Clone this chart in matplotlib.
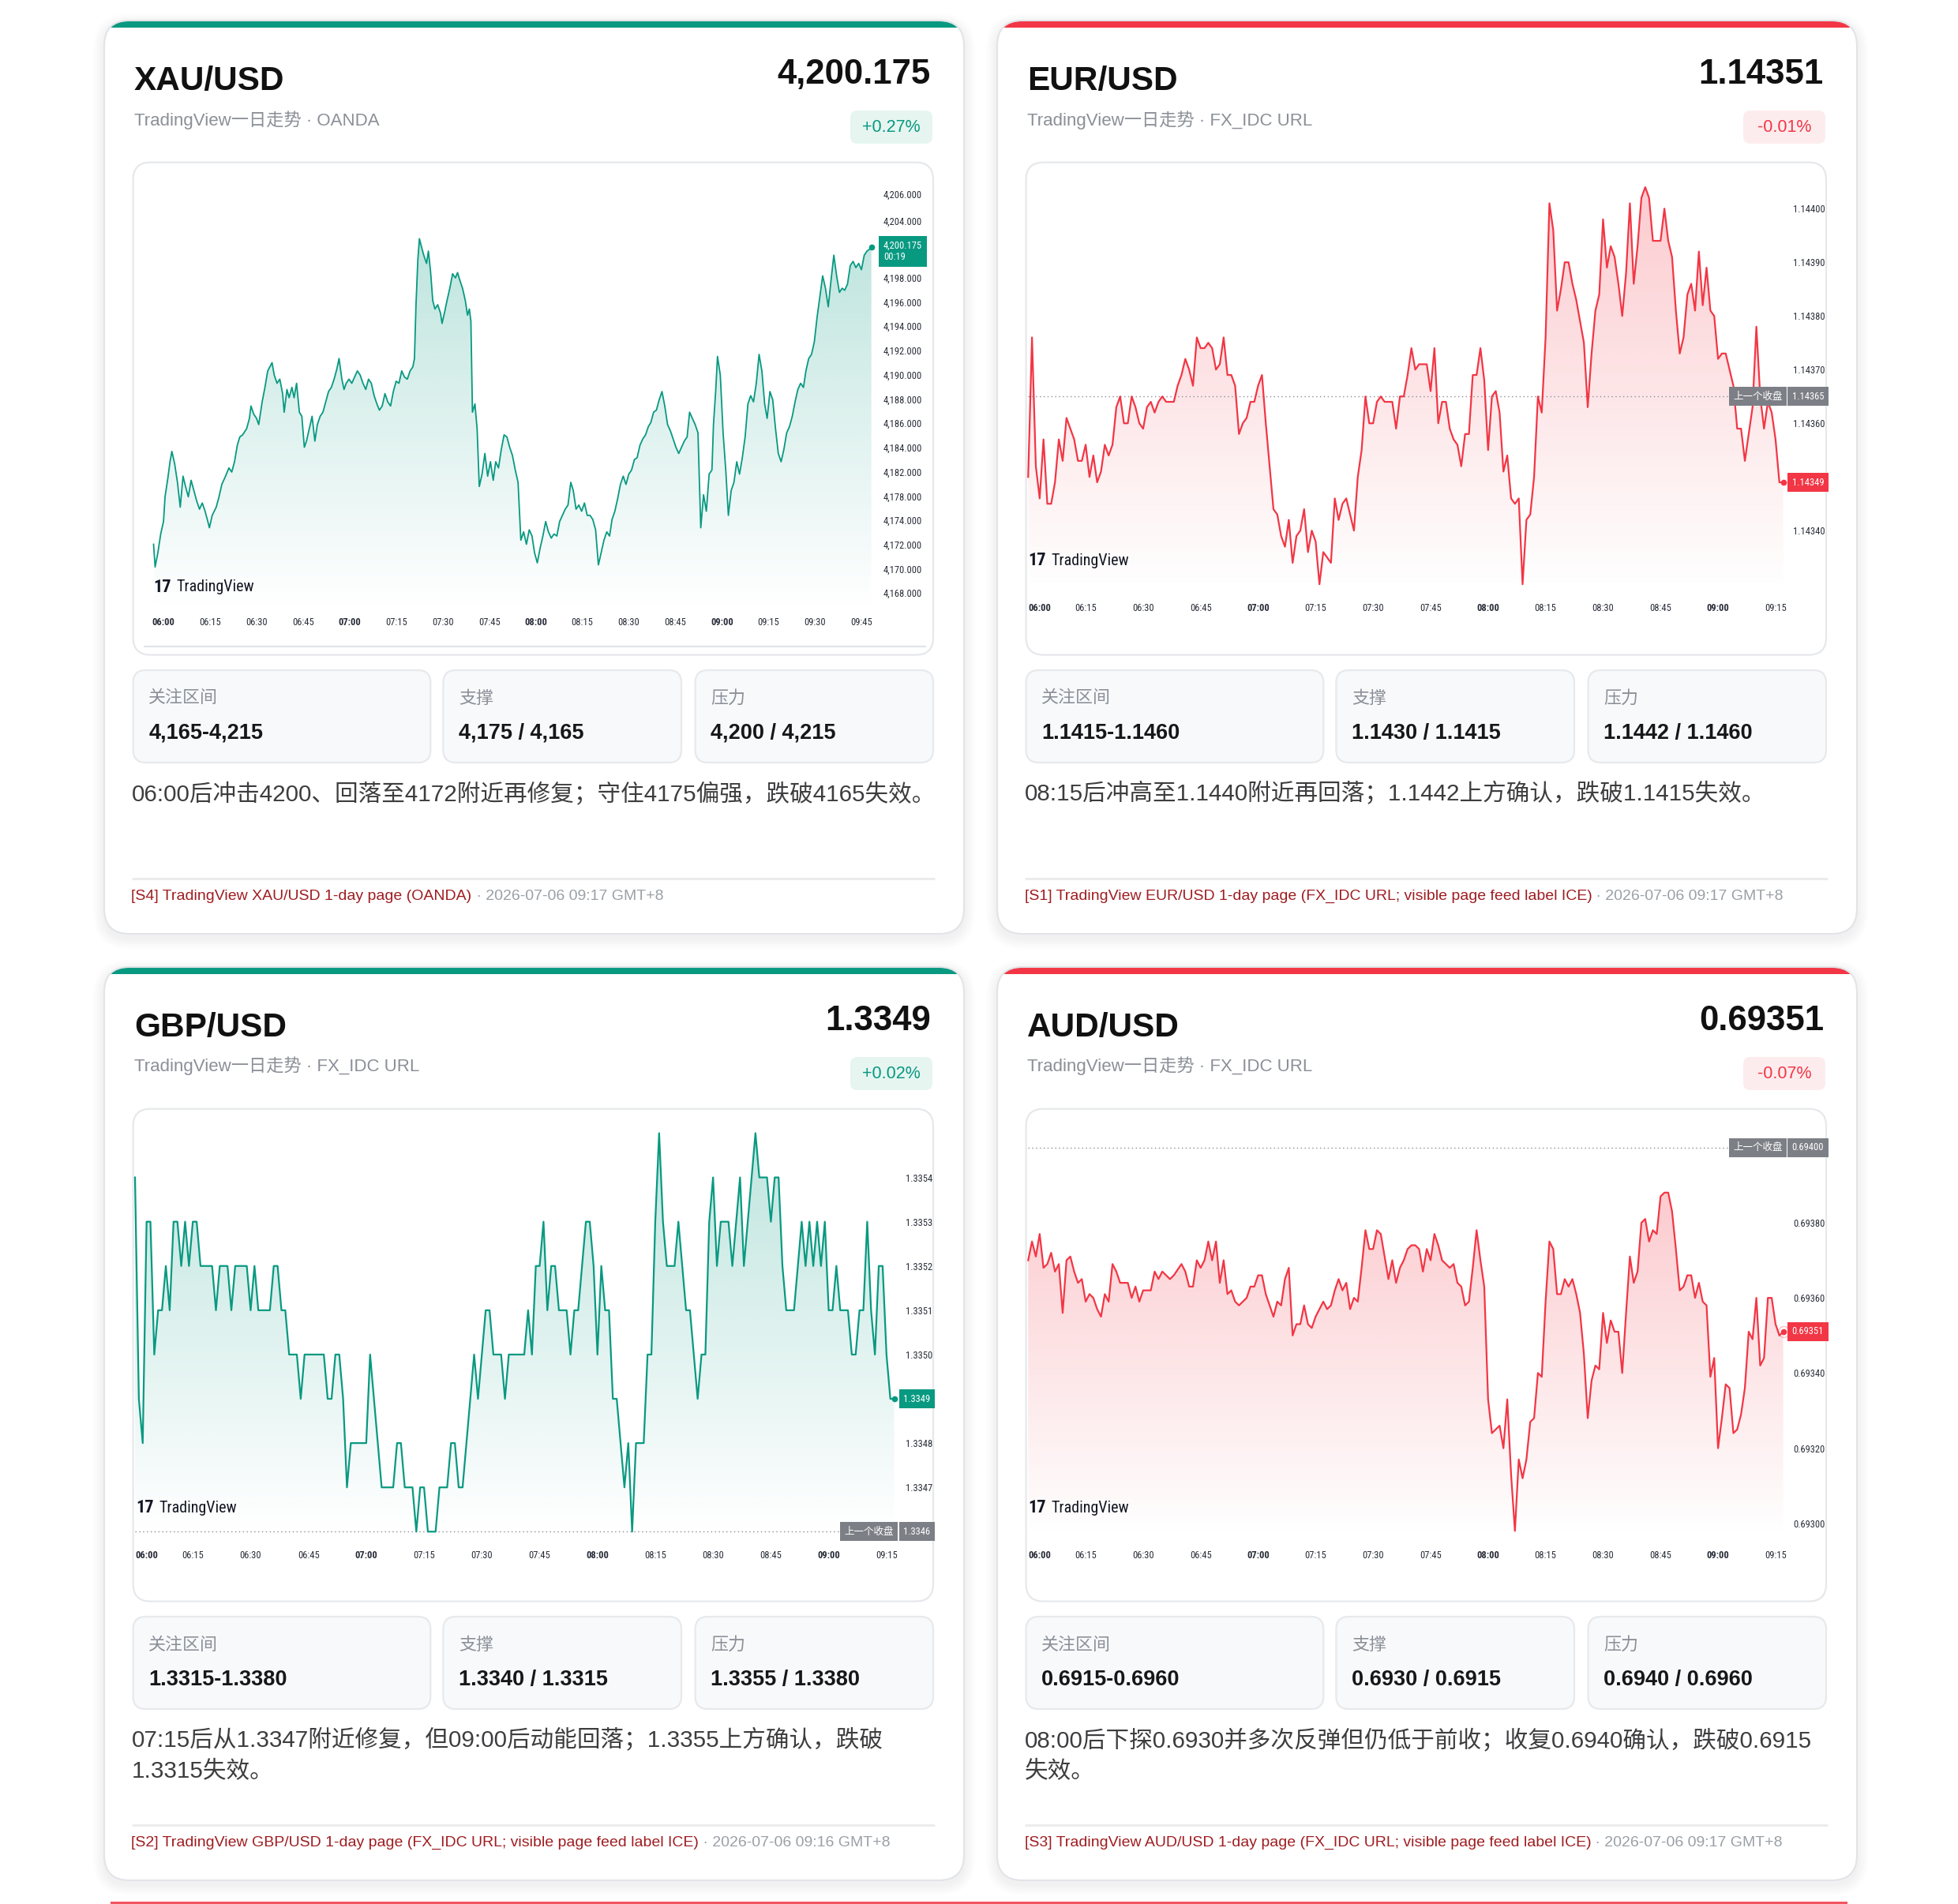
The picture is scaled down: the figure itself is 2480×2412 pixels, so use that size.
import numpy as np
import matplotlib
matplotlib.use("Agg")
import matplotlib.pyplot as plt
from matplotlib import font_manager as fm
from matplotlib.colors import to_rgb
from matplotlib.patches import FancyBboxPatch, Rectangle
from matplotlib.transforms import blended_transform_factory

W, H = 2480, 2412
GREEN = "#089981"
RED = "#f23645"

# ---------------- data (time = minutes after 06:00) ----------------
xau_time = [
    -3.2, -2.7, -1.8, -0.9, 0.0, 0.5, 1.4, 2.1, 2.7, 3.6,
    4.5, 5.4, 6.3, 7.1, 8.0, 8.9, 9.8, 10.7, 11.6, 12.5,
    13.4, 14.3, 14.8, 15.7, 17.0, 17.9, 18.8, 20.0, 21.1, 22.0,
    22.9, 23.8, 24.6, 25.5, 26.8, 27.7, 28.2, 29.1, 30.0, 30.7,
    31.8, 32.7, 33.6, 34.3, 35.0, 35.7, 36.6, 37.5, 38.4, 38.9,
    39.8, 40.5, 41.4, 42.1, 42.9, 43.8, 44.6, 45.4, 46.1, 47.0,
    47.9, 48.8, 49.6, 50.5, 51.4, 52.3, 53.2, 54.1, 55.0, 55.9,
    56.6, 57.5, 58.2, 58.9, 59.8, 60.7, 61.6, 62.5, 63.4, 64.3,
    65.2, 66.1, 67.0, 67.9, 68.8, 69.6, 70.5, 71.4, 72.3, 73.2,
    74.1, 75.0, 75.9, 76.8, 77.7, 78.6, 79.5, 80.4, 80.9, 81.4,
    82.0, 82.5, 83.0, 83.9, 84.8, 85.4, 86.1, 86.8, 87.5, 88.4,
    89.3, 89.8, 90.7, 91.4, 92.3, 93.2, 94.1, 94.8, 95.5, 96.4,
    97.3, 98.0, 98.6, 99.1, 99.6, 100.4, 101.1, 101.8, 102.7, 103.6,
    104.5, 105.4, 106.3, 107.1, 108.0, 108.9, 109.8, 110.7, 111.6, 112.5,
    113.4, 114.3, 115.2, 116.1, 117.0, 117.9, 118.8, 119.6, 120.5, 121.4,
    122.3, 123.2, 124.1, 125.0, 125.9, 126.8, 127.7, 128.6, 129.5, 130.4,
    131.3, 132.1, 133.0, 133.9, 134.8, 135.7, 136.6, 137.5, 138.4, 139.3,
    140.2, 141.1, 142.0, 142.9, 143.8, 144.6, 145.5, 146.4, 147.3, 148.2,
    149.1, 150.0, 150.9, 151.8, 152.7, 153.6, 154.5, 155.4, 156.3, 157.1,
    158.0, 158.9, 159.8, 160.7, 161.6, 162.5, 163.4, 164.3, 165.2, 166.1,
    167.0, 167.9, 168.8, 169.6, 170.5, 171.4, 172.3, 173.2, 174.1, 175.0,
    175.9, 176.8, 177.3, 178.0, 178.6, 179.5, 180.4, 181.3, 182.1, 183.0,
    183.9, 184.8, 185.7, 186.6, 187.5, 188.4, 189.3, 190.2, 191.1, 192.0,
    192.9, 193.8, 194.6, 195.5, 196.4, 197.3, 198.2, 199.1, 200.0, 200.9,
    201.8, 202.7, 203.6, 204.5, 205.4, 206.3, 207.1, 208.0, 208.9, 209.8,
    210.7, 211.6, 212.5, 213.4, 214.3, 215.2, 216.1, 217.0, 217.9, 218.8,
    219.6, 220.5, 221.4, 222.3, 223.2, 224.1, 225.0, 225.9, 226.8, 227.7, 228.2,
]
xau_price = [
    4176.03, 4174.16, 4175.35, 4176.88, 4177.90, 4179.94, 4181.47, 4182.83, 4183.68, 4182.66,
    4181.13, 4179.09, 4181.64, 4180.79, 4179.94, 4181.30, 4180.45, 4179.60, 4178.92, 4179.43,
    4178.75, 4177.90, 4177.39, 4178.41, 4179.09, 4179.94, 4180.96, 4181.64, 4182.32, 4181.98,
    4182.83, 4184.19, 4184.87, 4185.04, 4185.55, 4186.40, 4187.42, 4186.74, 4186.40, 4185.89,
    4187.76, 4188.95, 4190.31, 4190.65, 4190.99, 4189.97, 4189.29, 4189.63, 4188.44, 4186.91,
    4188.78, 4188.10, 4188.95, 4188.10, 4189.29, 4186.91, 4186.57, 4184.02, 4184.53, 4185.55,
    4186.57, 4184.53, 4185.89, 4186.57, 4186.91, 4187.76, 4188.61, 4188.95, 4189.63, 4190.48,
    4191.33, 4189.63, 4188.78, 4189.29, 4189.63, 4189.29, 4189.80, 4190.31, 4189.97, 4189.29,
    4188.78, 4189.63, 4189.29, 4188.27, 4187.59, 4187.08, 4187.42, 4188.44, 4187.76, 4187.42,
    4188.61, 4189.46, 4189.29, 4190.31, 4189.80, 4189.63, 4190.31, 4190.65, 4191.33, 4195.76,
    4199.50, 4201.20, 4200.69, 4199.84, 4199.16, 4200.18, 4198.48, 4196.10, 4195.41, 4195.76,
    4195.07, 4194.22, 4195.24, 4196.10, 4197.12, 4198.31, 4197.97, 4198.41, 4197.80, 4197.12,
    4196.10, 4194.90, 4195.41, 4194.39, 4186.91, 4187.59, 4185.55, 4180.79, 4181.81, 4183.51,
    4181.64, 4182.83, 4181.30, 4182.83, 4182.32, 4183.85, 4185.04, 4184.87, 4184.02, 4183.34,
    4182.15, 4181.13, 4176.37, 4177.05, 4176.03, 4177.22, 4176.71, 4175.35, 4174.50, 4175.69,
    4176.71, 4177.90, 4177.05, 4176.54, 4176.88, 4176.71, 4177.90, 4178.41, 4178.92, 4179.26,
    4181.13, 4180.45, 4178.92, 4179.26, 4178.75, 4179.43, 4178.41, 4178.41, 4178.07, 4177.22,
    4174.33, 4175.35, 4176.37, 4177.05, 4176.71, 4178.07, 4178.75, 4179.77, 4180.96, 4181.64,
    4180.96, 4181.81, 4182.15, 4183.00, 4183.17, 4184.19, 4184.70, 4185.04, 4185.72, 4186.06,
    4186.91, 4187.08, 4187.93, 4188.61, 4187.42, 4185.89, 4185.38, 4184.70, 4184.02, 4183.51,
    4184.02, 4184.53, 4184.87, 4186.91, 4186.40, 4185.89, 4185.21, 4177.39, 4180.11, 4178.75,
    4181.81, 4182.15, 4185.89, 4188.61, 4191.50, 4189.97, 4185.21, 4181.98, 4178.41, 4180.45,
    4181.13, 4182.83, 4181.81, 4183.17, 4184.87, 4187.59, 4188.27, 4187.76, 4189.29, 4191.67,
    4190.31, 4187.59, 4186.40, 4188.61, 4187.93, 4185.55, 4183.51, 4182.83, 4183.85, 4185.21,
    4185.72, 4186.57, 4187.76, 4188.78, 4189.29, 4188.95, 4190.31, 4191.33, 4191.67, 4192.69,
    4194.73, 4196.44, 4198.14, 4197.12, 4195.59, 4197.80, 4199.84, 4198.14, 4196.78, 4197.12,
    4196.95, 4197.46, 4198.99, 4199.33, 4198.82, 4199.16, 4198.65, 4199.84, 4200.18, 4200.35, 4200.52,
]
xau_last = 4200.175
# label positions as drawn on the picture's own (irregular) price scale
xau_yticks = [4204.87, 4202.66, 4198, 4196, 4194, 4192, 4190, 4188, 4186, 4184,
              4182, 4180, 4178, 4176, 4174, 4172.05]
xau_ylabels = ["4,206.000", "4,204.000", "4,198.000", "4,196.000", "4,194.000", "4,192.000",
               "4,190.000", "4,188.000", "4,186.000", "4,184.000", "4,182.000", "4,178.000",
               "4,174.000", "4,172.000", "4,170.000", "4,168.000"]
xau_xlabels = ["06:00", "06:15", "06:30", "06:45", "07:00", "07:15", "07:30", "07:45",
               "08:00", "08:15", "08:30", "08:45", "09:00", "09:15", "09:30", "09:45"]

eur_time = [
    0, 1, 2, 3, 4, 5, 6, 7, 8, 9,
    10, 12, 13, 14, 15, 16, 17, 18, 19, 20,
    21, 22, 23, 24, 25, 26, 27, 28, 29, 30,
    31, 32, 33, 34, 35, 36, 38, 39, 40, 41,
    42, 43, 44, 45, 46, 47, 48, 49, 50, 51,
    52, 53, 54, 55, 56, 57, 58, 59, 60, 61,
    62, 63, 64, 65, 66, 67, 68, 69, 70, 71,
    72, 73, 74, 75, 76, 77, 78, 79, 80, 81,
    82, 83, 84, 85, 86, 87, 88, 89, 90, 91,
    92, 93, 95, 96, 97, 98, 99, 100, 101, 102,
    104, 105, 106, 107, 108, 109, 110, 111, 112, 113,
    114, 115, 116, 117, 118, 119, 120, 121, 122, 123,
    124, 125, 126, 127, 128, 129, 130, 131, 132, 133,
    134, 135, 136, 137, 138, 139, 140, 141, 142, 143,
    144, 145, 146, 147, 148, 149, 150, 151, 152, 153,
    154, 155, 156, 157, 158, 159, 160, 161, 162, 163,
    165, 166, 167, 168, 169, 170, 171, 172, 173, 174,
    175, 176, 177, 178, 179, 180, 181, 182, 183, 184,
    185, 186, 187, 188, 189, 190, 191, 192, 193, 194,
    195, 196, 197,
]
eur_price = [
    1.14350, 1.14376, 1.14352, 1.14346, 1.14357, 1.14345, 1.14345, 1.14349, 1.14357, 1.14353,
    1.14361, 1.14357, 1.14353, 1.14353, 1.14356, 1.14350, 1.14354, 1.14349, 1.14351, 1.14356,
    1.14354, 1.14356, 1.14363, 1.14365, 1.14360, 1.14360, 1.14365, 1.14363, 1.14360, 1.14359,
    1.14363, 1.14364, 1.14362, 1.14364, 1.14365, 1.14364, 1.14364, 1.14367, 1.14369, 1.14372,
    1.14370, 1.14367, 1.14376, 1.14374, 1.14374, 1.14375, 1.14374, 1.14370, 1.14371, 1.14376,
    1.14369, 1.14369, 1.14367, 1.14358, 1.14360, 1.14361, 1.14364, 1.14364, 1.14367, 1.14369,
    1.14360, 1.14352, 1.14344, 1.14343, 1.14339, 1.14337, 1.14342, 1.14334, 1.14339, 1.14340,
    1.14344, 1.14336, 1.14340, 1.14338, 1.14330, 1.14336, 1.14335, 1.14334, 1.14346, 1.14342,
    1.14345, 1.14346, 1.14343, 1.14340, 1.14350, 1.14355, 1.14365, 1.14360, 1.14360, 1.14364,
    1.14365, 1.14364, 1.14364, 1.14359, 1.14365, 1.14365, 1.14369, 1.14374, 1.14370, 1.14371,
    1.14371, 1.14366, 1.14374, 1.14360, 1.14364, 1.14364, 1.14359, 1.14357, 1.14356, 1.14352,
    1.14358, 1.14358, 1.14369, 1.14369, 1.14374, 1.14368, 1.14355, 1.14365, 1.14366, 1.14362,
    1.14351, 1.14354, 1.14346, 1.14345, 1.14346, 1.14330, 1.14342, 1.14343, 1.14350, 1.14365,
    1.14362, 1.14376, 1.14401, 1.14396, 1.14381, 1.14385, 1.14390, 1.14390, 1.14386, 1.14383,
    1.14379, 1.14375, 1.14363, 1.14373, 1.14381, 1.14384, 1.14398, 1.14389, 1.14393, 1.14391,
    1.14386, 1.14380, 1.14388, 1.14401, 1.14386, 1.14393, 1.14402, 1.14404, 1.14402, 1.14394,
    1.14394, 1.14400, 1.14394, 1.14391, 1.14381, 1.14373, 1.14376, 1.14384, 1.14386, 1.14381,
    1.14392, 1.14382, 1.14389, 1.14381, 1.14380, 1.14372, 1.14373, 1.14373, 1.14370, 1.14367,
    1.14359, 1.14359, 1.14353, 1.14358, 1.14363, 1.14378, 1.14365, 1.14359, 1.14364, 1.14362,
    1.14357, 1.14349, 1.14349,
]
eur_prev = 1.14365
eur_last = 1.14349
eur_yticks = [1.14400, 1.14390, 1.14380, 1.14370, 1.14360, 1.14340]

gbp_time = [
    0, 1, 2, 3, 4, 5, 6, 7, 8, 9,
    10, 11, 12, 13, 14, 15, 16, 17, 20, 21,
    22, 24, 25, 26, 29, 30, 31, 32, 35, 36,
    37, 38, 39, 40, 42, 43, 44, 49, 50, 51,
    52, 53, 54, 55, 56, 60, 61, 62, 63, 64,
    67, 68, 69, 70, 72, 73, 74, 75, 76, 78,
    79, 81, 82, 83, 84, 85, 86, 87, 88, 89,
    90, 91, 92, 93, 95, 96, 97, 101, 102, 103,
    104, 105, 106, 107, 108, 109, 110, 112, 113, 114,
    115, 116, 117, 118, 119, 120, 121, 122, 123, 124,
    125, 126, 127, 128, 129, 130, 132, 133, 134, 135,
    136, 137, 138, 139, 140, 141, 142, 143, 144, 145,
    146, 147, 148, 149, 150, 151, 152, 154, 155, 156,
    157, 158, 159, 160, 161, 162, 164, 165, 166, 167,
    168, 169, 171, 172, 173, 174, 175, 176, 177, 178,
    179, 180, 181, 182, 183, 185, 186, 187, 188, 189,
    190, 191, 192, 193, 194, 195, 196, 197,
]
gbp_price = [
    1.3354, 1.3349, 1.3348, 1.3353, 1.3353, 1.3350, 1.3351, 1.3351, 1.3352, 1.3351,
    1.3353, 1.3353, 1.3352, 1.3353, 1.3352, 1.3353, 1.3353, 1.3352, 1.3352, 1.3351,
    1.3352, 1.3352, 1.3351, 1.3352, 1.3352, 1.3351, 1.3352, 1.3351, 1.3351, 1.3352,
    1.3352, 1.3351, 1.3351, 1.3350, 1.3350, 1.3349, 1.3350, 1.3350, 1.3349, 1.3349,
    1.3350, 1.3350, 1.3349, 1.3347, 1.3348, 1.3348, 1.3350, 1.3349, 1.3348, 1.3347,
    1.3347, 1.3348, 1.3348, 1.3347, 1.3347, 1.3346, 1.3347, 1.3347, 1.3346, 1.3346,
    1.3347, 1.3347, 1.3348, 1.3348, 1.3347, 1.3347, 1.3348, 1.3349, 1.3350, 1.3349,
    1.3350, 1.3351, 1.3351, 1.3350, 1.3350, 1.3349, 1.3350, 1.3350, 1.3351, 1.3350,
    1.3352, 1.3352, 1.3353, 1.3351, 1.3352, 1.3352, 1.3351, 1.3351, 1.3350, 1.3351,
    1.3351, 1.3352, 1.3353, 1.3353, 1.3352, 1.3350, 1.3352, 1.3351, 1.3351, 1.3349,
    1.3349, 1.3348, 1.3347, 1.3348, 1.3346, 1.3348, 1.3348, 1.3350, 1.3350, 1.3353,
    1.3355, 1.3353, 1.3352, 1.3352, 1.3352, 1.3353, 1.3352, 1.3351, 1.3351, 1.3350,
    1.3349, 1.3350, 1.3350, 1.3353, 1.3354, 1.3352, 1.3353, 1.3353, 1.3352, 1.3353,
    1.3354, 1.3352, 1.3353, 1.3354, 1.3355, 1.3354, 1.3354, 1.3353, 1.3354, 1.3354,
    1.3352, 1.3351, 1.3351, 1.3352, 1.3353, 1.3352, 1.3353, 1.3352, 1.3353, 1.3352,
    1.3353, 1.3351, 1.3351, 1.3352, 1.3351, 1.3351, 1.3350, 1.3350, 1.3351, 1.3351,
    1.3353, 1.3351, 1.3350, 1.3352, 1.3352, 1.3350, 1.3349, 1.3349,
]
gbp_prev = 1.3346
gbp_last = 1.3349
gbp_yticks = [1.3354, 1.3353, 1.3352, 1.3351, 1.3350, 1.3348, 1.3347]

aud_time = [
    0, 1, 2, 3, 4, 5, 6, 7, 8, 9,
    10, 11, 12, 13, 14, 15, 16, 17, 18, 19,
    20, 21, 22, 23, 24, 26, 27, 28, 29, 30,
    32, 33, 34, 35, 36, 37, 38, 40, 41, 42,
    43, 44, 45, 46, 47, 48, 49, 50, 51, 52,
    53, 54, 55, 56, 57, 58, 59, 60, 61, 62,
    63, 64, 65, 66, 67, 68, 69, 70, 71, 72,
    73, 74, 75, 76, 77, 78, 79, 80, 81, 82,
    83, 84, 85, 86, 87, 88, 89, 90, 91, 92,
    93, 94, 95, 96, 97, 98, 99, 100, 101, 102,
    103, 104, 105, 106, 107, 108, 109, 110, 111, 112,
    113, 114, 115, 116, 117, 118, 119, 120, 121, 122,
    123, 124, 125, 126, 127, 128, 129, 130, 131, 132,
    133, 134, 135, 136, 137, 138, 139, 140, 141, 142,
    143, 144, 145, 146, 147, 148, 149, 150, 151, 152,
    153, 154, 155, 156, 157, 158, 159, 160, 161, 162,
    163, 164, 165, 166, 167, 168, 169, 170, 171, 172,
    173, 174, 175, 176, 177, 178, 179, 180, 181, 182,
    183, 184, 185, 186, 187, 188, 189, 190, 191, 192,
    193, 194, 195, 196, 197,
]
aud_price = [
    0.69370, 0.69375, 0.69371, 0.69377, 0.69368, 0.69369, 0.69372, 0.69367, 0.69369, 0.69356,
    0.69370, 0.69371, 0.69367, 0.69364, 0.69365, 0.69359, 0.69361, 0.69360, 0.69357, 0.69355,
    0.69361, 0.69359, 0.69369, 0.69367, 0.69364, 0.69364, 0.69360, 0.69363, 0.69359, 0.69362,
    0.69362, 0.69367, 0.69365, 0.69367, 0.69366, 0.69365, 0.69366, 0.69369, 0.69367, 0.69363,
    0.69363, 0.69370, 0.69368, 0.69370, 0.69375, 0.69370, 0.69375, 0.69364, 0.69370, 0.69361,
    0.69362, 0.69359, 0.69358, 0.69359, 0.69360, 0.69363, 0.69363, 0.69366, 0.69366, 0.69361,
    0.69358, 0.69355, 0.69359, 0.69358, 0.69365, 0.69368, 0.69350, 0.69353, 0.69353, 0.69358,
    0.69353, 0.69352, 0.69355, 0.69357, 0.69359, 0.69357, 0.69358, 0.69362, 0.69365, 0.69362,
    0.69364, 0.69357, 0.69360, 0.69359, 0.69368, 0.69378, 0.69373, 0.69373, 0.69378, 0.69377,
    0.69371, 0.69365, 0.69370, 0.69364, 0.69368, 0.69370, 0.69373, 0.69374, 0.69374, 0.69373,
    0.69367, 0.69373, 0.69370, 0.69377, 0.69374, 0.69370, 0.69369, 0.69368, 0.69369, 0.69364,
    0.69363, 0.69358, 0.69359, 0.69368, 0.69378, 0.69370, 0.69363, 0.69333, 0.69324, 0.69325,
    0.69326, 0.69320, 0.69333, 0.69313, 0.69298, 0.69317, 0.69312, 0.69317, 0.69327, 0.69328,
    0.69340, 0.69339, 0.69359, 0.69375, 0.69373, 0.69361, 0.69361, 0.69365, 0.69363, 0.69365,
    0.69361, 0.69356, 0.69345, 0.69328, 0.69338, 0.69342, 0.69341, 0.69356, 0.69348, 0.69354,
    0.69351, 0.69351, 0.69340, 0.69356, 0.69371, 0.69364, 0.69367, 0.69380, 0.69381, 0.69375,
    0.69378, 0.69377, 0.69387, 0.69388, 0.69388, 0.69383, 0.69373, 0.69362, 0.69363, 0.69366,
    0.69366, 0.69360, 0.69364, 0.69359, 0.69358, 0.69339, 0.69344, 0.69320, 0.69328, 0.69337,
    0.69336, 0.69324, 0.69325, 0.69329, 0.69336, 0.69351, 0.69349, 0.69360, 0.69342, 0.69344,
    0.69360, 0.69360, 0.69353, 0.69350, 0.69351,
]
aud_prev = 0.69400
aud_last = 0.69351
aud_yticks = [0.69380, 0.69360, 0.69340, 0.69320, 0.69300]

fx_xlabels = ["06:00", "06:15", "06:30", "06:45", "07:00", "07:15", "07:30",
              "07:45", "08:00", "08:15", "08:30", "08:45", "09:00", "09:15"]

cards = [
    dict(title="XAU/USD", price="4,200.175", sub="TradingView一日走势 · OANDA", badge="+0.27%", up=True,
         stats=[("关注区间", "4,165-4,215"), ("支撑", "4,175 / 4,165"), ("压力", "4,200 / 4,215")],
         note=["06:00后冲击4200、回落至4172附近再修复；守住4175偏强，跌破4165失效。"],
         src="[S4] TradingView XAU/USD 1-day page (OANDA)", stamp=" · 2026-07-06 09:17 GMT+8"),
    dict(title="EUR/USD", price="1.14351", sub="TradingView一日走势 · FX_IDC URL", badge="-0.01%", up=False,
         stats=[("关注区间", "1.1415-1.1460"), ("支撑", "1.1430 / 1.1415"), ("压力", "1.1442 / 1.1460")],
         note=["08:15后冲高至1.1440附近再回落；1.1442上方确认，跌破1.1415失效。"],
         src="[S1] TradingView EUR/USD 1-day page (FX_IDC URL; visible page feed label ICE)",
         stamp=" · 2026-07-06 09:17 GMT+8"),
    dict(title="GBP/USD", price="1.3349", sub="TradingView一日走势 · FX_IDC URL", badge="+0.02%", up=True,
         stats=[("关注区间", "1.3315-1.3380"), ("支撑", "1.3340 / 1.3315"), ("压力", "1.3355 / 1.3380")],
         note=["07:15后从1.3347附近修复，但09:00后动能回落；1.3355上方确认，跌破", "1.3315失效。"],
         src="[S2] TradingView GBP/USD 1-day page (FX_IDC URL; visible page feed label ICE)",
         stamp=" · 2026-07-06 09:16 GMT+8"),
    dict(title="AUD/USD", price="0.69351", sub="TradingView一日走势 · FX_IDC URL", badge="-0.07%", up=False,
         stats=[("关注区间", "0.6915-0.6960"), ("支撑", "0.6930 / 0.6915"), ("压力", "0.6940 / 0.6960")],
         note=["08:00后下探0.6930并多次反弹但仍低于前收；收复0.6940确认，跌破0.6915", "失效。"],
         src="[S3] TradingView AUD/USD 1-day page (FX_IDC URL; visible page feed label ICE)",
         stamp=" · 2026-07-06 09:17 GMT+8"),
]


def pick_font(names):
    for name in names:
        try:
            fm.findfont(fm.FontProperties(family=name), fallback_to_default=False)
            return name
        except ValueError:
            continue
    return "DejaVu Sans"


NARROW = pick_font(["Liberation Sans Narrow", "Roboto Condensed", "Liberation Sans"])
plt.rcParams["font.family"] = ["Liberation Sans", "Noto Sans CJK SC", "DejaVu Sans"]

fig = plt.figure(figsize=(W / 100, H / 100), dpi=100, facecolor="white")
bg = fig.add_axes([0, 0, 1, 1])
bg.set_xlim(0, W)
bg.set_ylim(H, 0)
bg.axis("off")


def rbox(x0, y0, x1, y1, r, fc, ec="none", lw=0, alpha=1.0, z=2):
    p = FancyBboxPatch((x0, y0), x1 - x0, y1 - y0, boxstyle=f"round,pad=0,rounding_size={r}",
                       fc=fc, ec=ec, lw=lw, alpha=alpha, zorder=z)
    bg.add_patch(p)
    return p


def minute(label):
    h, m = label.split(":")
    return (int(h) - 6) * 60 + int(m)


def draw_card(cx, cy, c):
    cw, ch = 1089, 1157
    color = GREEN if c["up"] else RED
    for k in range(1, 8):
        rbox(cx - 2 * k, cy - 2 * k + 5, cx + cw + 2 * k, cy + ch + 2 * k + 5, 32 + 2 * k,
             fc="black", alpha=0.007, z=1)
    body = rbox(cx, cy, cx + cw, cy + ch, 32, fc="white", z=2)
    bar = Rectangle((cx, cy), cw, 9, fc=color, ec="none", zorder=3)
    bg.add_patch(bar)
    bar.set_clip_path(body)
    rbox(cx, cy, cx + cw, cy + ch, 32, fc="none", ec="#e2e4e8", lw=1.5, z=4)

    bg.text(cx + 38, cy + 88, c["title"], fontsize=30.5, fontweight="bold", color="#111111",
            va="baseline", zorder=5)
    bg.text(cx + 1047, cy + 80, c["price"], fontsize=31.5, fontweight="bold", color="#111111",
            ha="right", va="baseline", zorder=5)
    bg.text(cx + 38, cy + 132.5, c["sub"], fontsize=16, color="#8b8f97", va="baseline", zorder=5)
    rbox(cx + 945, cy + 114, cx + 1049, cy + 156, 9, fc="#e6f5f0" if c["up"] else "#fdecee", z=5)
    bg.text(cx + 997, cy + 135.5, c["badge"], fontsize=15.5, color=color, ha="center", va="center",
            zorder=6)

    rbox(cx + 36.6, cy + 179.7, cx + 1050, cy + 803.6, 22, fc="white", ec="#e6e8eb", lw=1.6, z=5)

    for (bx0, bx1), (lab, val) in zip([(36.6, 413.3), (429.4, 731), (748.6, 1050)], c["stats"]):
        rbox(cx + bx0, cy + 823, cx + bx1, cy + 940, 16, fc="#f8f9fa", ec="#e7e9ec", lw=1.6, z=5)
        bg.text(cx + bx0 + 19.6, cy + 859, lab, fontsize=15.8, color="#8a8f98", va="center", zorder=6)
        bg.text(cx + bx0 + 19.6, cy + 910, val, fontsize=19.5, fontweight="bold", color="#15171a",
                va="baseline", zorder=6)

    for i, line in enumerate(c["note"]):
        bg.text(cx + 34.5, cy + 979 + 40 * i, line, fontsize=21.3, color="#3d3d3f", va="center", zorder=6)

    bg.plot([cx + 34.5, cx + 1052], [cy + 1086.7, cy + 1086.7], color="#ececee", lw=2.2, zorder=6,
            solid_capstyle="butt")
    src = bg.text(cx + 34.5, cy + 1114, c["src"], fontsize=14, color="#9f1d21", va="baseline", zorder=6)
    renderer = fig.canvas.get_renderer()
    bb = src.get_window_extent(renderer)
    x_end = bg.transData.inverted().transform((bb.x1, bb.y0))[0]
    bg.text(x_end, cy + 1114, c["stamp"], fontsize=14, color="#9aa0a6", va="baseline", zorder=6)


def logo(x, y):
    fig.text(x / W, 1 - y / H, "17", fontsize=16, fontweight="bold", family=NARROW,
             va="center", color="#131722", zorder=8)
    fig.text((x + 29) / W, 1 - y / H, "TradingView", fontsize=14.5, family=NARROW,
             va="center", color="#131722", zorder=8)


def draw_chart(box, t, p, color, lw, xlim, ylim, yticks, ylabels, xlabels, ypad, xpad, first_left):
    x0, y0, x1, y1 = box
    ax = fig.add_axes([x0 / W, 1 - y1 / H, (x1 - x0) / W, (y1 - y0) / H])
    ax.set_facecolor("none")
    for s in ax.spines.values():
        s.set_visible(False)
    t = np.asarray(t, float)
    p = np.asarray(p, float)
    ax.plot(t, p, color=color, lw=lw, zorder=4, solid_joinstyle="round", clip_on=False)
    area = ax.fill_between(t, p, ylim[0], fc="none", ec="none")
    grad = np.zeros((256, 1, 4))
    grad[..., :3] = to_rgb(color)
    grad[:, 0, 3] = np.linspace(0.26, 0.0, 256)
    im = ax.imshow(grad, extent=[t[0], t[-1], ylim[0], p.max()], origin="upper", aspect="auto",
                   interpolation="bilinear", zorder=2)
    im.set_clip_path(area.get_paths()[0], ax.transData)
    ax.plot(t[-1], p[-1], "o", ms=4.5, color=color, zorder=5, clip_on=False)
    ax.set_xlim(*xlim)
    ax.set_ylim(*ylim)
    ax.yaxis.tick_right()
    ax.set_yticks(yticks)
    ax.set_yticklabels(ylabels)
    ax.set_xticks([minute(s) for s in xlabels])
    ax.set_xticklabels(xlabels)
    ax.tick_params(axis="both", length=0, labelsize=9, labelcolor="#2a2e39")
    ax.tick_params(axis="y", pad=ypad)
    ax.tick_params(axis="x", pad=xpad)
    for lab in ax.get_xticklabels() + ax.get_yticklabels():
        lab.set_fontfamily(NARROW)
    for lab in ax.get_xticklabels():
        if lab.get_text().endswith(":00"):
            lab.set_fontweight("bold")
    if first_left:
        ax.get_xticklabels()[0].set_horizontalalignment("left")
    return ax


def tag(ax, x, y, s, fc, ha="left"):
    tr = blended_transform_factory(ax.transAxes, ax.transData)
    ax.text(x, y, s, transform=tr, ha=ha, va="center", color="white", fontsize=9,
            family=[NARROW, "Noto Sans CJK SC"], linespacing=1.15,
            bbox=dict(boxstyle="square,pad=0.45", fc=fc, ec="none"), clip_on=False, zorder=6)


def prev_close(ax, y, t_end, x_tag_l, x_tag_r, label):
    ax.plot([0, t_end], [y, y], color="#8a8d96", lw=1.0, ls=(0, (1, 2.5)), zorder=3)
    tag(ax, x_tag_l, y, "上一个收盘", "#7d7f86", ha="right")
    tag(ax, x_tag_r, y, label, "#7d7f86")


origins = [(132, 26), (1263, 26), (132, 1225), (1263, 1225)]
for (cx, cy), c in zip(origins, cards):
    draw_card(cx, cy, c)

# gold chart has a thin rule under the time axis
bg.plot([182.6, 1171.7], [818.6, 818.6], color="#e0e3e7", lw=1.5, zorder=6)

ax1 = draw_chart((185, 229, 1108, 773), xau_time, xau_price, GREEN, 1.3,
                 (-5.62, 229.3), (4170.60, 4205.97), xau_yticks, xau_ylabels, xau_xlabels,
                 7.6, 6.8, False)
tag(ax1, 1.0117, xau_last, "4,200.175\n00:19", GREEN)

ax2 = draw_chart((1300, 208, 2262, 748), eur_time, eur_price, RED, 1.6,
                 (-0.47, 197.7), (1.1432885, 1.1440828), eur_yticks,
                 [f"{v:.5f}" for v in eur_yticks], fx_xlabels, 6.8, 11.6, True)
prev_close(ax2, eur_prev, 187.3, 0.9956, 1.0079, f"{eur_prev:.5f}")
tag(ax2, 1.0079, eur_last, f"{eur_last:.5f}", RED)

ax3 = draw_chart((169, 1408, 1136, 1944), gbp_time, gbp_price, GREEN, 1.6,
                 (-0.41, 197.7), (1.3345934, 1.335549), gbp_yticks,
                 [f"{v:.4f}" for v in gbp_yticks], fx_xlabels, 7.8, 14.5, True)
prev_close(ax3, gbp_prev, 187.5, 0.9956, 1.0086, f"{gbp_prev:.4f}")
tag(ax3, 1.0086, gbp_last, f"{gbp_last:.4f}", GREEN)

ax4 = draw_chart((1300, 1408, 2262, 1946), aud_time, aud_price, RED, 1.6,
                 (-0.47, 197.7), (0.692966, 0.694096), aud_yticks,
                 [f"{v:.5f}" for v in aud_yticks], fx_xlabels, 6.8, 12.7, True)
ax4.plot(aud_time[-1], aud_price[-1], "o", ms=10, mfc="none", mec=RED, alpha=0.3, zorder=5, clip_on=False)
prev_close(ax4, aud_prev, 187.3, 0.9956, 1.0079, f"{aud_prev:.5f}")
tag(ax4, 1.0079, aud_last, f"{aud_last:.5f}", RED)

logo(194.5, 744)
logo(1302, 710)
logo(172, 1910)
logo(1302, 1910)

# top edge of the next row, cut off by the frame
bg.add_patch(Rectangle((140, 2409), 2200, 3, fc=RED, ec="none", alpha=0.85, zorder=3))

fig.savefig("out.png", dpi=100, facecolor="white")
